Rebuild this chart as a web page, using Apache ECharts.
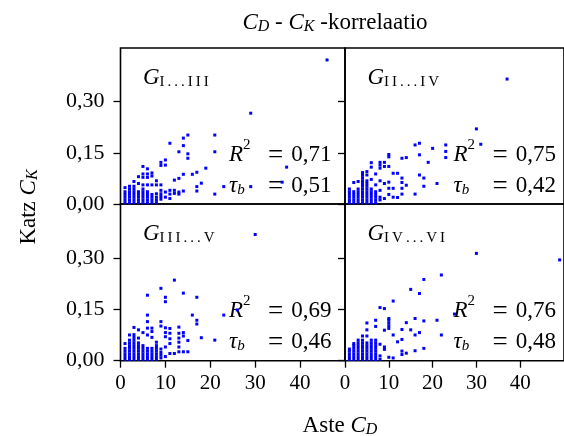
<!DOCTYPE html>
<html>
<head>
<meta charset="utf-8">
<script src="https://cdn.jsdelivr.net/npm/echarts@6/dist/echarts.min.js"></script>
<style>
  html, body { margin: 0; padding: 0; background: #fff; }
  #myChart { width: 564px; height: 436px; }
</style>
</head>
<body>
<div id="myChart"></div>
<script>
// values: each entry is [degree C_D, list of Katz C_K values]
var ptsI_III = [
  [1, [0.004, 0.012, 0.020, 0.028, 0.036, 0.048]],
  [2, [0.004, 0.012, 0.020, 0.028, 0.036, 0.044, 0.052]],
  [3, [0.004, 0.012, 0.020, 0.028, 0.036, 0.044, 0.052, 0.066]],
  [4, [0.004, 0.012, 0.020, 0.028, 0.036, 0.060, 0.080]],
  [5, [0.004, 0.012, 0.020, 0.028, 0.036, 0.044, 0.056, 0.078, 0.088, 0.110]],
  [6, [0.004, 0.012, 0.020, 0.028, 0.036, 0.056, 0.078, 0.088, 0.103]],
  [7, [0.004, 0.012, 0.020, 0.028, 0.056, 0.082, 0.091]],
  [8, [0.004, 0.012, 0.020, 0.030, 0.056, 0.068]],
  [9, [0.014, 0.022, 0.030, 0.040, 0.056, 0.113, 0.122]],
  [10, [0.020, 0.035, 0.114, 0.129]],
  [11, [0.016, 0.029, 0.040, 0.178]],
  [12, [0.031, 0.040, 0.070]],
  [13, [0.029, 0.035, 0.075, 0.153]],
  [14, [0.038, 0.087, 0.171, 0.193]],
  [15, [0.134, 0.147, 0.202]],
  [16, [0.087]],
  [17, [0.038, 0.051, 0.093]],
  [18, [0.061]],
  [19, [0.105]],
  [21, [0.029, 0.153, 0.202]],
  [23, [0.051]],
  [29, [0.051, 0.266]],
  [36, [0.064]],
  [37, [0.108]],
  [46, [0.422]]
];
var ptsII_IV = [
  [1, [0.004, 0.012, 0.020, 0.028, 0.036, 0.044]],
  [2, [0.004, 0.012, 0.020, 0.028, 0.036, 0.063]],
  [3, [0.004, 0.012, 0.020, 0.028, 0.036, 0.044, 0.066]],
  [4, [0.004, 0.012, 0.020, 0.028, 0.036, 0.044, 0.052, 0.060, 0.068, 0.076, 0.084, 0.092]],
  [5, [0.004, 0.012, 0.020, 0.028, 0.036, 0.044, 0.052, 0.060, 0.068, 0.085, 0.095]],
  [6, [0.004, 0.012, 0.020, 0.028, 0.036, 0.044, 0.072, 0.108, 0.121]],
  [7, [0.004, 0.012, 0.020, 0.028, 0.036, 0.056, 0.088]],
  [8, [0.012, 0.020, 0.040, 0.068, 0.105, 0.114, 0.122]],
  [9, [0.016, 0.060, 0.110, 0.122]],
  [10, [0.028, 0.046, 0.064, 0.110, 0.138, 0.145]],
  [11, [0.020, 0.046, 0.090]],
  [12, [0.019, 0.090]],
  [13, [0.029, 0.046, 0.063, 0.076, 0.134]],
  [14, [0.055, 0.136]],
  [16, [0.029, 0.173]],
  [17, [0.085, 0.144, 0.178]],
  [18, [0.052, 0.076]],
  [19, [0.122]],
  [20, [0.163]],
  [21, [0.060]],
  [23, [0.136, 0.154, 0.173]],
  [30, [0.220]],
  [31, [0.175]],
  [37, [0.366]]
];
var ptsIII_V = [
  [1, [0.004, 0.012, 0.020, 0.028, 0.036, 0.050]],
  [2, [0.004, 0.012, 0.020, 0.028, 0.036, 0.044, 0.052, 0.060, 0.075]],
  [3, [0.004, 0.012, 0.020, 0.028, 0.036, 0.044, 0.052, 0.060, 0.068, 0.076, 0.097]],
  [4, [0.004, 0.012, 0.020, 0.028, 0.036, 0.044, 0.052, 0.066, 0.090]],
  [5, [0.004, 0.012, 0.020, 0.028, 0.036, 0.044, 0.082]],
  [6, [0.004, 0.012, 0.020, 0.028, 0.036, 0.075, 0.095, 0.114, 0.133, 0.191]],
  [7, [0.004, 0.012, 0.020, 0.028, 0.036, 0.068, 0.085, 0.095]],
  [8, [0.004, 0.012, 0.020, 0.028, 0.036, 0.044, 0.054]],
  [9, [0.008, 0.016, 0.024, 0.034, 0.101, 0.114, 0.211]],
  [10, [0.012, 0.040, 0.070, 0.082, 0.096, 0.172, 0.185]],
  [11, [0.021, 0.050, 0.064, 0.080, 0.094]],
  [12, [0.021, 0.235]],
  [13, [0.026, 0.040, 0.054, 0.066, 0.080, 0.098]],
  [14, [0.026, 0.072, 0.082, 0.197]],
  [15, [0.026, 0.059]],
  [16, [0.133]],
  [17, [0.107, 0.118, 0.185]],
  [18, [0.067]],
  [21, [0.060]],
  [23, [0.133]],
  [26, [0.148]],
  [30, [0.368]]
];
var ptsIV_VI = [
  [1, [0.004, 0.012, 0.020, 0.028, 0.034]],
  [2, [0.004, 0.012, 0.020, 0.028, 0.036, 0.044, 0.050]],
  [3, [0.004, 0.012, 0.020, 0.028, 0.036, 0.044, 0.052, 0.060]],
  [4, [0.004, 0.012, 0.020, 0.028, 0.036, 0.044, 0.052, 0.060, 0.072]],
  [5, [0.004, 0.012, 0.020, 0.028, 0.036, 0.044, 0.052, 0.072, 0.090, 0.110]],
  [6, [0.004, 0.012, 0.020, 0.028, 0.036, 0.044, 0.052, 0.060]],
  [7, [0.004, 0.012, 0.020, 0.028, 0.036, 0.044, 0.052, 0.060, 0.100, 0.118]],
  [8, [0.004, 0.014, 0.048, 0.155]],
  [9, [0.033, 0.040, 0.089, 0.152]],
  [10, [0.010, 0.094, 0.102, 0.110, 0.118, 0.123]],
  [11, [0.008, 0.075, 0.174]],
  [12, [0.055]],
  [13, [0.018, 0.028, 0.062, 0.091]],
  [14, [0.022, 0.111]],
  [15, [0.090, 0.208]],
  [16, [0.029, 0.075, 0.123]],
  [17, [0.082, 0.196]],
  [18, [0.036, 0.116, 0.237]],
  [21, [0.118]],
  [22, [0.075, 0.250]],
  [25, [0.136]],
  [30, [0.313]],
  [49, [0.294]]
];

var panelNames = ['I...III', 'II...IV', 'III...V', 'IV...VI'];
var r2Values = ['0,71', '0,75', '0,69', '0,76'];
var tauValues = ['0,51', '0,42', '0,46', '0,48'];
var xTicks = [0, 10, 20, 30, 40];
var yTicks = [0, 0.15, 0.30];

var SERIF = 'Liberation Serif';
var BLUE = '#0000ff';

// panel boxes [left, top, width, height], order TL, TR, BL, BR
var boxes = [
  [120.5, 48, 224.5, 156],
  [345, 48, 224.5, 156],
  [120.5, 204, 224.5, 156.7],
  [345, 204, 224.5, 156.7]
];

function flatten(cols) {
  var out = [];
  for (var i = 0; i < cols.length; i++) {
    for (var j = 0; j < cols[i][1].length; j++) {
      out.push([cols[i][0], cols[i][1][j]]);
    }
  }
  return out;
}

// roman subscript with thin gaps, like the small caps index
function spaced(s) {
  return s.split('').join('\u2009');
}

function richSet(size, sub) {
  return {
    i: { fontFamily: SERIF, fontStyle: 'italic', fontSize: size, lineHeight: size + 6, verticalAlign: 'bottom', color: '#000' },
    r: { fontFamily: SERIF, fontSize: size, lineHeight: size + 6, verticalAlign: 'bottom', color: '#000' },
    eq: { fontFamily: SERIF, fontSize: size + 4, lineHeight: size + 6, verticalAlign: 'bottom', color: '#000' },
    si: { fontFamily: SERIF, fontStyle: 'italic', fontSize: sub, lineHeight: sub, verticalAlign: 'bottom', color: '#000' },
    s: { fontFamily: SERIF, fontSize: sub, lineHeight: sub, verticalAlign: 'bottom', color: '#000' },
    sup: { fontFamily: SERIF, fontSize: sub, lineHeight: sub + 5, verticalAlign: 'top', color: '#000' }
  };
}
var richPanel = richSet(23, 15);
var richName = richSet(23, 16);

function txt(x, y, text, align, rich, rot) {
  return {
    type: 'text', x: x, y: y, rotation: rot || 0, silent: true,
    style: { text: text, rich: rich, textAlign: align || 'center', textVerticalAlign: 'middle' }
  };
}

var allData = [ptsI_III, ptsII_IV, ptsIII_V, ptsIV_VI];
var grids = [], xAxes = [], yAxes = [], series = [], graphics = [];

for (var k = 0; k < 4; k++) {
  var b = boxes[k];
  var isBottom = k >= 2, isLeft = (k % 2 === 0);
  grids.push({
    left: b[0], top: b[1], width: b[2], height: b[3],
    show: true, borderColor: '#000', borderWidth: 1.6, backgroundColor: 'transparent'
  });
  xAxes.push({
    gridIndex: k, type: 'value', min: 0, max: 50, interval: 10,
    splitLine: { show: false }, axisLine: { show: false },
    axisTick: { show: isBottom, length: 7, customValues: xTicks, lineStyle: { color: '#000', width: 1.3 } },
    axisLabel: {
      show: isBottom, customValues: xTicks, margin: 12,
      color: '#000', fontFamily: SERIF, fontSize: 21
    }
  });
  yAxes.push({
    gridIndex: k, type: 'value', min: 0, max: 0.457, interval: 0.15,
    splitLine: { show: false }, axisLine: { show: false },
    axisTick: { show: true, length: 7, customValues: yTicks, lineStyle: { color: '#000', width: 1.3 } },
    axisLabel: {
      show: isLeft, customValues: yTicks, margin: 16,
      color: '#000', fontFamily: SERIF, fontSize: 22,
      formatter: function (v) { return v.toFixed(2).replace('.', ','); }
    }
  });
  series.push({
    type: 'scatter', xAxisIndex: k, yAxisIndex: k,
    symbol: 'rect', symbolSize: 3, silent: true,
    itemStyle: { color: BLUE, opacity: 1 },
    data: flatten(allData[k])
  });
  // panel texts
  graphics.push(txt(b[0] + 22.5, b[1] + 27, '{i|G}{s|' + spaced(panelNames[k]) + '}', 'left', richPanel));
  graphics.push(txt(b[0] + 108.5, b[1] + 104, '{i|R}{sup|2}', 'left', richPanel));
  graphics.push(txt(b[0] + 155, b[1] + 107, '{eq|=}', 'center', richPanel));
  graphics.push(txt(b[0] + 211, b[1] + 104, '{r|' + r2Values[k] + '}', 'right', richPanel));
  graphics.push(txt(b[0] + 108.5, b[1] + 135, '{i|τ}{si|b}', 'left', richPanel));
  graphics.push(txt(b[0] + 155, b[1] + 138, '{eq|=}', 'center', richPanel));
  graphics.push(txt(b[0] + 211, b[1] + 135, '{r|' + tauValues[k] + '}', 'right', richPanel));
}

graphics.push(txt(335, 20, '{i|C}{si|D}{r| - }{i|C}{si|K}{r| -korrelaatio}', 'center', richName));
graphics.push(txt(340, 423, '{r|Aste }{i|C}{si|D}', 'center', richName));
graphics.push(txt(26, 207, '{r|Katz }{i|C}{si|K}', 'center', richName, Math.PI / 2));

var myChart = echarts.init(document.getElementById('myChart'));
myChart.setOption({
  animation: false,
  backgroundColor: '#fff',
  grid: grids,
  xAxis: xAxes,
  yAxis: yAxes,
  series: series,
  graphic: graphics
});
</script>
</body>
</html>
